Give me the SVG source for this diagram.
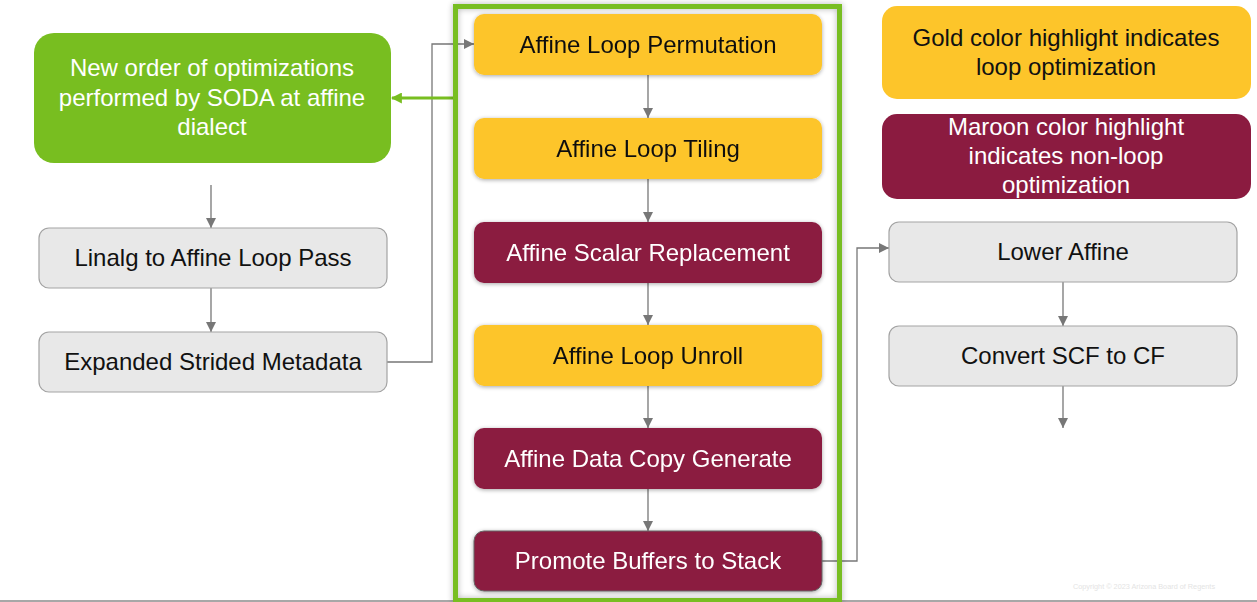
<svg xmlns="http://www.w3.org/2000/svg" width="1257" height="602" viewBox="0 0 1257 602">
<defs>
<style>
text{font-family:"Liberation Sans",Arial,sans-serif;font-size:24px;text-anchor:middle}
.gold{fill:#FDC52A}
.maroon{fill:#8B1B40}
.grey{fill:#E8E8E8;stroke:#A3A3A3;stroke-width:1.2}
.dark{fill:#111}
.light{fill:#fff}
.conn{fill:none;stroke:#777;stroke-width:1.3}
</style>
<marker id="ah" viewBox="0 0 10 10" refX="10" refY="5" markerWidth="10" markerHeight="10" markerUnits="userSpaceOnUse" orient="auto">
<path d="M0,0 L10,5 L0,10 Z" fill="#777"/>
</marker>
<marker id="ahg" viewBox="0 0 10 10" refX="9" refY="5" markerWidth="11" markerHeight="11" markerUnits="userSpaceOnUse" orient="auto">
<path d="M0,0 L10,5 L0,10 Z" fill="#78BE20"/>
</marker>
<filter id="sh" x="-10%" y="-30%" width="120%" height="160%">
<feGaussianBlur in="SourceAlpha" stdDeviation="2"/>
<feOffset dx="0" dy="1"/>
<feComponentTransfer><feFuncA type="linear" slope="0.35"/></feComponentTransfer>
<feMerge><feMergeNode/><feMergeNode in="SourceGraphic"/></feMerge>
</filter>
<filter id="fsh" x="-5%" y="-5%" width="110%" height="110%">
<feGaussianBlur in="SourceAlpha" stdDeviation="3"/>
<feComponentTransfer><feFuncA type="linear" slope="0.3"/></feComponentTransfer>
<feMerge><feMergeNode/><feMergeNode in="SourceGraphic"/></feMerge>
</filter>
</defs>
<rect width="1257" height="602" fill="#fff"/>
<line x1="0" y1="601" x2="1257" y2="601" stroke="#8a8a8a" stroke-width="1.5"/>
<text x="1144" y="589" style="font-size:7.3px;fill:#e4e4e4">Copyright © 2023 Arizona Board of Regents</text>

<g id="connectors">
<line class="conn" x1="211" y1="185" x2="211" y2="228" marker-end="url(#ah)"/>
<line class="conn" x1="211" y1="288" x2="211" y2="332" marker-end="url(#ah)"/>
<polyline class="conn" points="387,362 432,362 432,44 474,44" marker-end="url(#ah)"/>
<line class="conn" x1="648" y1="75" x2="648" y2="118" marker-end="url(#ah)"/>
<line class="conn" x1="648" y1="179" x2="648" y2="222" marker-end="url(#ah)"/>
<line class="conn" x1="648" y1="283" x2="648" y2="325" marker-end="url(#ah)"/>
<line class="conn" x1="648" y1="386" x2="648" y2="428" marker-end="url(#ah)"/>
<line class="conn" x1="648" y1="489" x2="648" y2="531" marker-end="url(#ah)"/>
<polyline class="conn" points="822,561 857,561 857,248 889,248" marker-end="url(#ah)"/>
<line class="conn" x1="1063" y1="282" x2="1063" y2="326" marker-end="url(#ah)"/>
<line class="conn" x1="1063" y1="386" x2="1063" y2="428" marker-end="url(#ah)"/>
<line x1="455" y1="98" x2="392" y2="98" stroke="#78BE20" stroke-width="3" marker-end="url(#ahg)"/>
</g>

<g id="frame">
<rect x="455.5" y="6.5" width="384" height="594" fill="none" stroke="#78BE20" stroke-width="5" filter="url(#fsh)"/>
</g>

<g id="soda">
<rect x="34" y="33" width="357" height="130" rx="20" fill="#78BE20"/>
<text class="light" x="212" y="76">New order of optimizations</text>
<text class="light" x="212" y="106">performed by SODA at affine</text>
<text class="light" x="212" y="135">dialect</text>
</g>

<g id="linalg">
<rect class="grey" x="39" y="228" width="348" height="60" rx="10"/>
<text class="dark" x="213" y="266">Linalg to Affine Loop Pass</text>
</g>
<g id="expanded">
<rect class="grey" x="39" y="332" width="348" height="60" rx="10"/>
<text class="dark" x="213" y="370">Expanded Strided Metadata</text>
</g>

<g id="permutation" filter="url(#sh)">
<rect class="gold" x="474" y="14" width="348" height="61" rx="10"/>
<text class="dark" x="648" y="53">Affine Loop Permutation</text>
</g>
<g id="tiling" filter="url(#sh)">
<rect class="gold" x="474" y="118" width="348" height="61" rx="10"/>
<text class="dark" x="648" y="157">Affine Loop Tiling</text>
</g>
<g id="scalar" filter="url(#sh)">
<rect class="maroon" x="474" y="222" width="348" height="61" rx="10"/>
<text class="light" x="648" y="261">Affine Scalar Replacement</text>
</g>
<g id="unroll" filter="url(#sh)">
<rect class="gold" x="474" y="325" width="348" height="61" rx="10"/>
<text class="dark" x="648" y="364">Affine Loop Unroll</text>
</g>
<g id="datacopy" filter="url(#sh)">
<rect class="maroon" x="474" y="428" width="348" height="61" rx="10"/>
<text class="light" x="648" y="467">Affine Data Copy Generate</text>
</g>
<g id="promote" filter="url(#sh)">
<rect class="maroon" x="474" y="531" width="348" height="60" rx="10" stroke="#666" stroke-width="1"/>
<text class="light" x="648" y="569">Promote Buffers to Stack</text>
</g>

<g id="lower">
<rect class="grey" x="889" y="222" width="348" height="60" rx="10"/>
<text class="dark" x="1063" y="260">Lower Affine</text>
</g>
<g id="convert">
<rect class="grey" x="889" y="326" width="348" height="60" rx="10"/>
<text class="dark" x="1063" y="364">Convert SCF to CF</text>
</g>

<g id="legend-gold">
<rect class="gold" x="882" y="6" width="369" height="93" rx="15"/>
<text class="dark" x="1066" y="46">Gold color highlight indicates</text>
<text class="dark" x="1066" y="75">loop optimization</text>
</g>
<g id="legend-maroon">
<rect class="maroon" x="882" y="114" width="369" height="85" rx="15"/>
<text class="light" x="1066" y="135">Maroon color highlight</text>
<text class="light" x="1066" y="164">indicates non-loop</text>
<text class="light" x="1066" y="193">optimization</text>
</g>
</svg>
